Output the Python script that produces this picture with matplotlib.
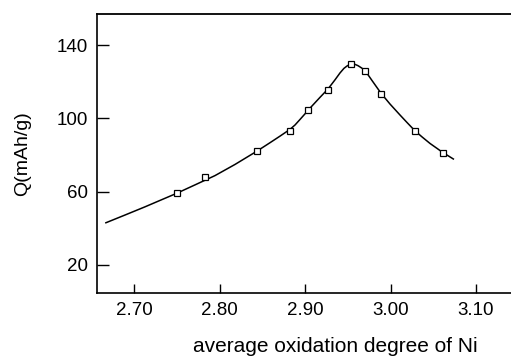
import matplotlib

matplotlib.use("Agg")
import matplotlib.pyplot as plt

# Measured capacity points (open squares).
ox_degree = [2.7495, 2.7823, 2.8439, 2.8822, 2.9033, 2.9264, 2.9533,
             2.9697, 2.9888, 3.0282, 3.0610]
capacity = [59.0, 67.8, 82.2, 93.1, 104.8, 115.6, 129.7,
            126.0, 113.4, 93.1, 81.1]

# Fitted curve.
curve_x = [2.6667, 2.6889, 2.7124, 2.7299, 2.7495, 2.7709, 2.7944, 2.8178,
           2.8439, 2.8588, 2.8705, 2.8822, 2.8881, 2.8939, 2.8998, 2.9056,
           2.9173, 2.9267, 2.9349, 2.9408, 2.9454, 2.9490, 2.9525, 2.9548,
           2.9583, 2.9618, 2.9665, 2.9712, 2.9782, 2.9888, 2.9993, 3.0110,
           3.0192, 3.0282, 3.0368, 3.0462, 3.0544, 3.0610, 3.0673, 3.0735]
curve_y = [42.9, 47.1, 51.6, 55.1, 59.0, 63.6, 68.7, 74.8,
           82.2, 86.7, 90.3, 94.0, 96.4, 99.4, 102.5, 105.6,
           111.5, 116.1, 121.1, 124.9, 127.4, 128.7, 129.6, 129.8,
           129.6, 128.9, 127.5, 125.5, 120.8, 113.8, 107.9, 101.9,
           97.8, 93.4, 89.9, 86.3, 83.6, 81.4, 79.6, 77.8]

x_ticks = [2.70, 2.80, 2.90, 3.00, 3.10]
y_ticks = [20, 60, 100, 140]

plt.rcParams["font.family"] = ["Liberation Sans", "DejaVu Sans"]

fig = plt.figure(figsize=(5.11, 3.57), dpi=100)
ax = fig.add_axes([0.189, 0.180, 0.811, 0.781])

ax.plot(curve_x, curve_y, color="black", linewidth=1.1)
ax.plot(ox_degree, capacity, linestyle="none", marker="s", markersize=3.8,
        markerfacecolor="white", markeredgecolor="black", markeredgewidth=0.9)

ax.set_xlim(2.6558, 3.141)
ax.set_ylim(4.6, 157.2)
ax.set_xticks(x_ticks)
ax.set_xticklabels([f"{t:.2f}" for t in x_ticks])
ax.set_yticks(y_ticks)

ax.spines["right"].set_visible(False)
ax.spines["left"].set_linewidth(1.2)
ax.spines["bottom"].set_linewidth(1.2)
ax.spines["top"].set_linewidth(1.3)

ax.tick_params(axis="x", direction="in", length=6.7, width=1.0, pad=7, labelsize=13.5)
ax.tick_params(axis="y", direction="in", length=8.4, width=1.0, pad=6, labelsize=13.5)

ax.set_xlabel("average oxidation degree of Ni", fontsize=15)
ax.xaxis.set_label_coords(0.575, -0.158)
ax.set_ylabel("Q(mAh/g)", fontsize=14)
ax.yaxis.set_label_coords(-0.157, 0.5)

fig.savefig("out.png", dpi=100)
